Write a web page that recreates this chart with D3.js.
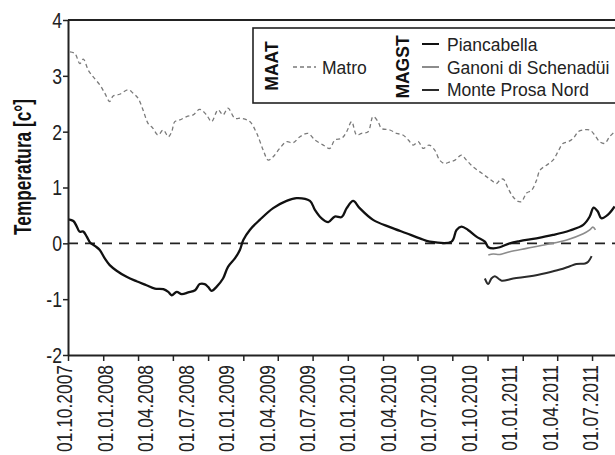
<!DOCTYPE html>
<html><head><meta charset="utf-8">
<script src="https://cdn.jsdelivr.net/npm/d3@7/dist/d3.min.js"></script>
<style>body{margin:0;background:#fff}svg{display:block}</style>
</head><body>
<svg id="chart" width="615" height="455"></svg>
<script>
// ---- data ----
const matroDates = ["2007-10-06","2007-10-19","2007-11-01","2007-11-10","2007-11-23","2007-12-06","2007-12-23","2008-01-05","2008-01-18","2008-01-27","2008-02-13","2008-03-06","2008-03-19","2008-04-01","2008-04-14","2008-04-27","2008-05-10","2008-05-23","2008-06-06","2008-06-19","2008-06-28","2008-07-06","2008-07-19","2008-08-06","2008-08-23","2008-09-09","2008-09-27","2008-10-10","2008-10-27","2008-11-09","2008-11-22","2008-12-10","2008-12-27","2009-01-18","2009-02-05","2009-02-22","2009-03-07","2009-03-20","2009-04-06","2009-04-24","2009-05-11","2009-05-29","2009-06-19","2009-07-07","2009-07-29","2009-08-15","2009-08-28","2009-09-15","2009-09-28","2009-10-11","2009-10-24","2009-11-06","2009-11-23","2009-12-06","2009-12-19","2009-12-28","2010-01-19","2010-02-05","2010-02-22","2010-03-08","2010-03-21","2010-04-03","2010-04-16","2010-05-01","2010-05-16","2010-05-29","2010-06-11","2010-06-25","2010-07-08","2010-07-25","2010-08-07","2010-08-24","2010-09-11","2010-09-29","2010-10-11","2010-10-24","2010-11-02","2010-11-11","2010-11-24","2010-12-07","2010-12-20","2010-12-29","2011-01-11","2011-01-24","2011-02-06","2011-02-15","2011-03-04","2011-03-21","2011-04-03","2011-04-16","2011-04-30","2011-05-13","2011-05-26","2011-06-08","2011-06-25","2011-07-08","2011-07-21","2011-08-03","2011-08-16","2011-08-29"];
const matroValues = [3.43,3.40,3.22,3.30,3.10,2.98,2.84,2.69,2.54,2.64,2.67,2.75,2.69,2.60,2.39,2.15,2.06,1.94,2.03,1.91,2.00,2.18,2.21,2.27,2.30,2.40,2.30,2.18,2.39,2.30,2.42,2.24,2.24,2.18,1.97,1.67,1.49,1.55,1.70,1.82,1.80,1.91,1.97,1.85,1.76,1.70,1.85,1.88,2.00,2.18,1.94,1.97,2.00,2.27,2.18,2.06,2.03,1.97,1.94,1.85,1.76,1.82,1.70,1.76,1.67,1.49,1.43,1.46,1.49,1.58,1.49,1.37,1.28,1.19,1.13,1.07,1.13,1.15,0.98,0.83,0.75,0.75,0.90,0.95,1.13,1.31,1.40,1.49,1.64,1.79,1.82,1.88,2.00,2.03,2.03,1.94,1.82,1.79,1.91,2.00];

const piancabellaDates = ["2007-10-02","2007-10-15","2007-10-24","2007-10-31","2007-11-10","2007-11-19","2007-11-28","2007-12-11","2007-12-23","2008-01-05","2008-01-18","2008-02-05","2008-03-02","2008-03-28","2008-04-23","2008-05-15","2008-06-06","2008-06-19","2008-06-28","2008-07-11","2008-07-24","2008-08-10","2008-08-28","2008-09-09","2008-09-22","2008-10-01","2008-10-10","2008-10-23","2008-11-09","2008-11-22","2008-12-10","2008-12-23","2009-01-01","2009-01-18","2009-02-13","2009-03-20","2009-04-24","2009-05-20","2009-06-24","2009-07-07","2009-07-24","2009-08-11","2009-08-28","2009-09-15","2009-09-28","2009-10-15","2009-11-01","2009-12-06","2010-01-19","2010-03-03","2010-04-07","2010-05-03","2010-06-29","2010-07-12","2010-07-25","2010-08-11","2010-09-02","2010-09-24","2010-10-03","2010-10-16","2010-11-02","2010-11-28","2010-12-24","2011-02-06","2011-03-21","2011-05-04","2011-06-08","2011-06-25","2011-07-05","2011-07-16","2011-07-25","2011-08-11","2011-08-29"];
const piancabellaValues = [0.43,0.40,0.30,0.21,0.21,0.12,0.01,-0.05,-0.12,-0.27,-0.39,-0.49,-0.60,-0.68,-0.75,-0.81,-0.82,-0.87,-0.93,-0.87,-0.91,-0.88,-0.84,-0.73,-0.73,-0.78,-0.85,-0.78,-0.63,-0.42,-0.27,-0.12,0.06,0.24,0.42,0.63,0.76,0.81,0.76,0.60,0.45,0.38,0.48,0.47,0.63,0.76,0.63,0.42,0.29,0.18,0.09,0.03,0.03,0.24,0.30,0.24,0.12,0.03,-0.07,-0.09,-0.07,0.00,0.04,0.09,0.15,0.23,0.33,0.48,0.64,0.57,0.45,0.51,0.66];

const ganoniDates = ["2010-10-03","2010-10-16","2010-11-02","2010-11-28","2011-01-11","2011-03-04","2011-04-26","2011-06-08","2011-06-25","2011-07-03","2011-07-10"];
const ganoniValues = [-0.21,-0.19,-0.20,-0.15,-0.09,-0.02,0.06,0.17,0.24,0.29,0.24];

const monteProsaDates = ["2010-09-24","2010-10-03","2010-10-11","2010-10-20","2010-10-29","2010-11-07","2010-12-07","2011-01-20","2011-03-04","2011-04-08","2011-05-04","2011-05-21","2011-06-13","2011-06-21","2011-06-30"];
const monteProsaValues = [-0.63,-0.73,-0.63,-0.59,-0.63,-0.67,-0.63,-0.59,-0.53,-0.47,-0.41,-0.37,-0.36,-0.33,-0.23];

const xTickLabels = ["01.10.2007","01.01.2008","01.04.2008","01.07.2008","01.01.2009","01.04.2009","01.07.2009","01.01.2010","01.04.2010","01.07.2010","01.10.2010","01.01.2011","01.04.2011","01.07.2011"];
const yTickValues = [-2,-1,0,1,2,3,4];
const yTitle = "Temperatura [c°]";
const legendMAAT = "MAAT";
const legendMAGST = "MAGST";
const seriesNames = ["Matro","Piancabella","Ganoni di Schenadüi","Monte Prosa Nord"];

// ---- drawing ----
const SANS = "'Liberation Sans',Arial,Helvetica,sans-serif";
const svg = d3.select("#chart");
const L = 68, R = 615, T = 20, B = 355;
const parse = d3.utcParse("%Y-%m-%d");
const x = d3.scaleUtc().domain([parse("2007-10-01"), parse("2011-08-30")]).range([L, R]);
const y = d3.scaleLinear().domain([-2, 4]).range([B, T]);

const zip = (ds, vs) => ds.map((d, i) => ({date: parse(d), value: vs[i]}));
const series = [
  {name: seriesNames[0], data: zip(matroDates, matroValues), color: "#7a7a7a", width: 1.3, dash: "4,3"},
  {name: seriesNames[1], data: zip(piancabellaDates, piancabellaValues), color: "#111", width: 2.3, dash: null},
  {name: seriesNames[2], data: zip(ganoniDates, ganoniValues), color: "#8c8c8c", width: 1.6, dash: null},
  {name: seriesNames[3], data: zip(monteProsaDates, monteProsaValues), color: "#2b2b2b", width: 2.0, dash: null}
];

svg.append("clipPath").attr("id", "plot").append("rect")
  .attr("x", L).attr("y", T).attr("width", R - L + 2).attr("height", B - T);

// zero line
svg.append("line").attr("x1", L).attr("x2", R).attr("y1", y(0)).attr("y2", y(0))
  .attr("stroke", "#222").attr("stroke-width", 1.6).attr("stroke-dasharray", "10,7");

const line = d3.line().x(d => x(d.date)).y(d => y(d.value)).curve(d3.curveCatmullRom.alpha(0.5));
const lg = svg.append("g").attr("clip-path", "url(#plot)");
series.forEach(s => {
  lg.append("path").datum(s.data).attr("d", line).attr("fill", "none")
    .attr("stroke", s.color).attr("stroke-width", s.width)
    .attr("stroke-dasharray", s.dash).attr("stroke-linejoin", "round");
});

// top border
svg.append("line").attr("x1", L).attr("x2", R).attr("y1", T).attr("y2", T)
  .attr("stroke", "#222").attr("stroke-width", 2);

// y axis
const ya = svg.append("g").attr("transform", `translate(${L},0)`)
  .call(d3.axisLeft(y).tickValues(yTickValues).tickFormat("").tickSize(5).tickSizeOuter(0));
ya.select(".domain").attr("stroke", "#222").attr("stroke-width", 2);
ya.selectAll(".tick line").attr("stroke", "#222").attr("stroke-width", 1.5);
svg.append("g").selectAll("text").data(yTickValues).join("text")
  .attr("transform", d => `translate(${L - 6},${y(d)}) scale(0.8,1)`)
  .attr("text-anchor", "end").attr("dy", "0.36em")
  .attr("font-family", SANS).attr("font-size", 22).attr("fill", "#222")
  .text(d => d < 0 ? "-" + Math.abs(d) : String(d));

// x axis (ticks quarterly)
const xa = svg.append("g").attr("transform", `translate(0,${B})`)
  .call(d3.axisBottom(x).ticks(d3.utcMonth.every(3)).tickFormat("").tickSize(6).tickSizeOuter(0));
xa.select(".domain").attr("stroke", "#222").attr("stroke-width", 2);
xa.selectAll(".tick line").attr("stroke", "#222").attr("stroke-width", 1.5);

const lx = d3.scalePoint().domain(xTickLabels)
  .range([x(parse("2007-10-01")) - 3.5, x(parse("2011-07-01")) - 2]);
svg.append("g").selectAll("text").data(xTickLabels).join("text")
  .attr("transform", d => `translate(${lx(d)},365) rotate(-90) scale(0.79,1)`)
  .attr("text-anchor", "end").attr("dy", "0.36em")
  .attr("font-family", SANS).attr("font-size", 22).attr("fill", "#222").text(d => d);

// y title
svg.append("text").attr("transform", `translate(23,167) rotate(-90) scale(0.75,1)`)
  .attr("text-anchor", "middle").attr("dy", "0.36em")
  .attr("font-family", SANS).attr("font-weight", "bold").attr("font-size", 23).attr("fill", "#111")
  .text(yTitle);

// legend
const lgd = svg.append("g");
lgd.append("rect").attr("x", 253).attr("y", 28).attr("width", 380).attr("height", 75)
  .attr("fill", "#fff").attr("stroke", "#222").attr("stroke-width", 1.6);
lgd.append("text").attr("transform", "translate(272,66) rotate(-90)").attr("text-anchor", "middle").attr("dy", "0.36em")
  .attr("font-family", SANS).attr("font-weight", "bold").attr("font-size", 17.5).attr("fill", "#111").text(legendMAAT);
lgd.append("text").attr("transform", "translate(403,67) rotate(-90)").attr("text-anchor", "middle").attr("dy", "0.36em")
  .attr("font-family", SANS).attr("font-weight", "bold").attr("font-size", 17.5).attr("fill", "#111").text(legendMAGST);

const items = [
  {s: series[0], lx1: 293, lx2: 316, ly: 67, tx: 322, ty: 73.5},
  {s: series[1], lx1: 422, lx2: 439, ly: 44, tx: 447, ty: 51},
  {s: series[2], lx1: 422, lx2: 439, ly: 67, tx: 447, ty: 73.5},
  {s: series[3], lx1: 422, lx2: 439, ly: 90, tx: 447, ty: 96}
];
items.forEach(it => {
  lgd.append("line").attr("x1", it.lx1).attr("x2", it.lx2).attr("y1", it.ly).attr("y2", it.ly)
    .attr("stroke", it.s.color).attr("stroke-width", it.s.dash ? 1.3 : 2).attr("stroke-dasharray", it.s.dash);
  lgd.append("text").attr("x", it.tx).attr("y", it.ty)
    .attr("font-family", SANS).attr("font-size", 17.5).attr("fill", "#222").text(it.s.name);
});
</script>
</body></html>
